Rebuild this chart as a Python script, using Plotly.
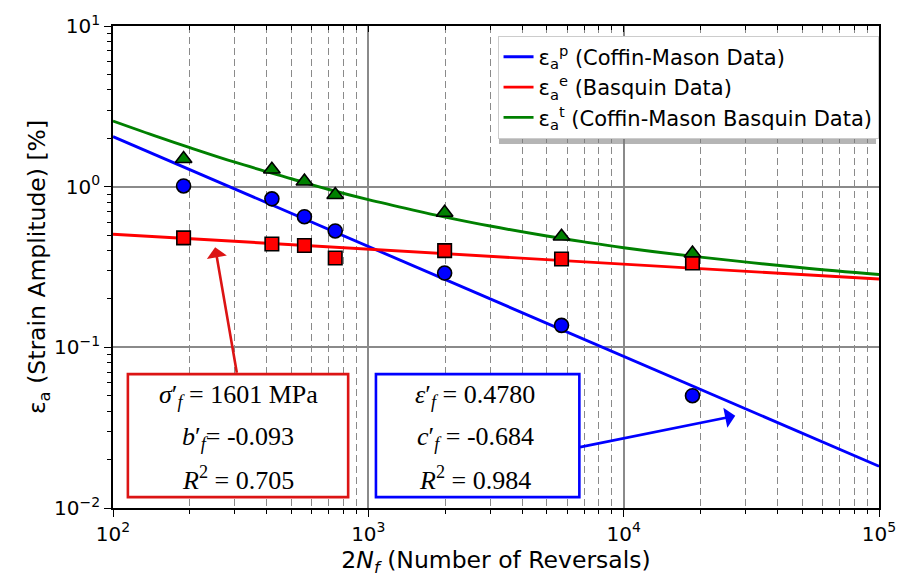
import plotly.graph_objects as go

# ---- data ----
reversals = [189, 419, 562, 742, 1990, 5710, 18600]
plastic_pts = [1.01, 0.84, 0.65, 0.53, 0.29, 0.137, 0.050]
elastic_pts = [0.48, 0.44, 0.43, 0.36, 0.40, 0.355, 0.335]
total_pts = [1.49, 1.28, 1.08, 0.89, 0.69, 0.49, 0.385]

fit_x_ends = [100, 100000]
plastic_fit = [2.05, 0.0182]
elastic_fit = [0.506, 0.266]
total_fit_x = [100, 150, 200, 300, 500, 700, 1000, 1500, 2000, 3000, 5000, 7000,
               10000, 20000, 50000, 100000]
total_fit = [2.56, 2.04, 1.75, 1.42, 1.12, 0.96, 0.83, 0.715, 0.647, 0.569, 0.493,
             0.453, 0.417, 0.364, 0.313, 0.284]

x_tickvals = [100, 1000, 10000, 100000]
x_ticktext = ["10<sup>2</sup>", "10<sup>3</sup>", "10<sup>4</sup>", "10<sup>5</sup>"]
y_tickvals = [0.01, 0.1, 1, 10]
y_ticktext = ["10<sup>−2</sup>", "10<sup>−1</sup>", "10<sup>0</sup>", "10<sup>1</sup>"]

legend_names = ["ε<sub>a</sub><sup>p</sup> (Coffin-Mason Data)",
                "ε<sub>a</sub><sup>e</sup> (Basquin Data)",
                "ε<sub>a</sub><sup>t</sup> (Coffin-Mason Basquin Data)"]

basquin_lines = ["<i>σ</i>′<sub><i>f</i></sub> = 1601 MPa",
                 "<i>b</i>′<sub><i>f</i></sub>= -0.093",
                 "<i>R</i><sup>2</sup> = 0.705"]
coffin_lines = ["<i>ε</i>′<sub><i>f</i></sub> = 0.4780",
                "<i>c</i>′<sub><i>f</i></sub> = -0.684",
                "<i>R</i><sup>2</sup> = 0.984"]

BLUE, RED, GREEN = "#0000ff", "#ff0000", "#008000"
BOXRED = "#dc1414"
FONT = "DejaVu Sans"
SERIF = "Liberation Serif"

fig = go.Figure()
fig.add_trace(go.Scatter(x=fit_x_ends, y=plastic_fit, mode="lines",
                         line=dict(color=BLUE, width=2.9), name=legend_names[0]))
fig.add_trace(go.Scatter(x=fit_x_ends, y=elastic_fit, mode="lines",
                         line=dict(color=RED, width=2.9), name=legend_names[1]))
fig.add_trace(go.Scatter(x=total_fit_x, y=total_fit, mode="lines",
                         line=dict(color=GREEN, width=2.9, shape="spline"),
                         name=legend_names[2]))

mk_line = dict(color="black", width=1.6)
fig.add_trace(go.Scatter(x=reversals, y=plastic_pts, mode="markers", showlegend=False,
                         marker=dict(symbol="circle", size=14, color=BLUE, line=mk_line)))
fig.add_trace(go.Scatter(x=reversals, y=elastic_pts, mode="markers", showlegend=False,
                         marker=dict(symbol="square", size=13.5, color=RED, line=mk_line)))
fig.add_trace(go.Scatter(x=reversals, y=total_pts, mode="markers", showlegend=False,
                         marker=dict(symbol="triangle-up", size=14.5, color=GREEN, line=mk_line)))
# invisible trace to carry the top (mirrored) axis
fig.add_trace(go.Scatter(x=fit_x_ends, y=plastic_fit, xaxis="x2", mode="lines",
                         line=dict(color="rgba(0,0,0,0)"), showlegend=False,
                         hoverinfo="skip"))

GRID = "#8a8a8a"
fig.update_layout(
    width=908, height=581,
    margin=dict(l=113, r=23, t=22, b=73),
    paper_bgcolor="white", plot_bgcolor="white",
    font=dict(family=FONT, size=20, color="black"),
    xaxis=dict(type="log", range=[2, 5], tickmode="array",
               tickvals=x_tickvals, ticktext=x_ticktext,
               showline=True, linecolor="black", linewidth=1.6, mirror=True,
               ticks="outside", ticklen=7, tickwidth=1.3, tickcolor="black",
               showgrid=True, gridcolor=GRID, gridwidth=1.5,
               minor=dict(dtick="D1", ticks="outside", ticklen=4, tickwidth=1,
                          tickcolor="black", showgrid=True, gridcolor=GRID,
                          gridwidth=1.3, griddash="7px,4px"),
               tickfont=dict(size=20),
               title=dict(text="2<i>N</i><sub><i>f</i></sub> (Number of Reversals)",
                          font=dict(size=23.5), standoff=4),
               zeroline=False),
    xaxis2=dict(type="log", range=[2, 5], overlaying="x", side="top",
                showticklabels=False, showgrid=False, showline=False,
                dtick=1, ticks="inside", ticklen=6, tickwidth=1, tickcolor="black",
                minor=dict(dtick="D1", ticks="inside", ticklen=4, tickwidth=1,
                           tickcolor="black", showgrid=False)),
    yaxis=dict(type="log", range=[-2, 1], tickmode="array",
               tickvals=y_tickvals, ticktext=y_ticktext,
               showline=True, linecolor="black", linewidth=1.6, mirror=True,
               ticks="outside", ticklen=7, tickwidth=1.3, tickcolor="black",
               showgrid=True, gridcolor=GRID, gridwidth=1.5,
               minor=dict(dtick="D1", ticks="outside", ticklen=4, tickwidth=1,
                          tickcolor="black", showgrid=False),
               tickfont=dict(size=20),
               title=dict(text="ε<sub>a</sub> (Strain Amplitude) [%]",
                          font=dict(size=23.5), standoff=2),
               zeroline=False),
    legend=dict(x=0.502, y=0.98, xanchor="left", yanchor="top",
                bgcolor="white", bordercolor="#cccccc", borderwidth=1,
                font=dict(family=FONT, size=21)),
    showlegend=True,
)

# legend shadow
fig.add_shape(type="rect", xref="paper", yref="paper",
              x0=(502 - 113) / 772, x1=(882 - 113) / 772,
              y0=(508 - 141) / 486, y1=(508 - 37) / 486,
              fillcolor="rgba(120,120,120,0.55)", line=dict(width=0), layer="above")

# annotation boxes
for x0, x1, col in [(128, 350, BOXRED), (378, 583, BLUE)]:
    fig.add_shape(type="rect", xref="paper", yref="paper",
                  x0=(x0 - 113) / 772, x1=(x1 - 113) / 772,
                  y0=(508 - 497) / 486, y1=(508 - 373) / 486,
                  fillcolor="white", line=dict(color=col, width=2.6), layer="above")

line_y = [395, 437, 478]
for lines, cx in [(basquin_lines, 239), (coffin_lines, 478)]:
    for txt, py in zip(lines, line_y):
        fig.add_annotation(text=txt, xref="paper", yref="paper",
                           x=(cx - 113) / 772, y=(508 - py) / 486,
                           xanchor="center", yanchor="middle", showarrow=False,
                           font=dict(family=SERIF, size=26, color="black"))

# arrows (tip at line, tail at box)
fig.add_annotation(text="", x=2.400, y=-0.377, ax=2.486, ay=-1.167,
                   xref="x", yref="y", axref="x", ayref="y",
                   showarrow=True, arrowhead=1, arrowsize=1.3, arrowwidth=2.6,
                   arrowcolor=BOXRED, standoff=0)
fig.add_annotation(text="", x=4.437, y=-1.426, ax=3.823, ay=-1.623,
                   xref="x", yref="y", axref="x", ayref="y",
                   showarrow=True, arrowhead=1, arrowsize=1.3, arrowwidth=2.6,
                   arrowcolor=BLUE, standoff=0)

fig.write_html("out.html")
